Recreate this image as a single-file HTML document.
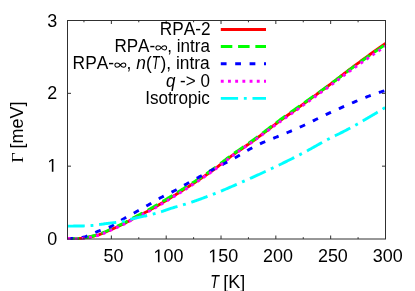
<!DOCTYPE html>
<html><head><meta charset="utf-8"><title>chart</title>
<style>html,body{margin:0;padding:0;background:#fff;}svg{display:block;}</style></head>
<body>
<svg width="415" height="291" viewBox="0 0 415 291">
<rect width="415" height="291" fill="#fff"/>
<clipPath id="c"><rect x="67.0" y="20.0" width="320.2" height="220.0"/></clipPath>
<g clip-path="url(#c)" fill="none" stroke-linecap="butt" stroke-linejoin="round">
<path d="M67.50,238.50 L68.56,238.50 L69.63,238.50 L70.69,238.50 L71.75,238.49 L72.82,238.49 L73.88,238.49 L74.94,238.48 L76.01,238.47 L77.07,238.46 L78.14,238.45 L79.20,238.42 L80.26,238.34 L81.33,238.23 L82.39,238.09 L83.45,237.95 L84.52,237.80 L85.58,237.65 L86.64,237.49 L87.71,237.32 L88.77,237.12 L89.83,236.92 L90.90,236.69 L91.96,236.46 L93.03,236.22 L94.09,235.97 L95.15,235.71 L96.22,235.43 L97.28,235.15 L98.34,234.86 L99.41,234.52 L100.47,234.15 L101.53,233.75 L102.60,233.33 L103.66,232.89 L104.72,232.43 L105.79,231.96 L106.85,231.49 L107.91,231.02 L108.98,230.54 L110.04,230.08 L111.11,229.62 L112.17,229.16 L113.23,228.70 L114.30,228.23 L115.36,227.75 L116.42,227.27 L117.49,226.79 L118.55,226.30 L119.61,225.80 L120.68,225.30 L121.74,224.79 L122.80,224.27 L123.87,223.73 L124.93,223.19 L125.99,222.63 L127.06,222.06 L128.12,221.48 L129.19,220.90 L130.25,220.32 L131.31,219.73 L132.38,219.15 L133.44,218.58 L134.50,218.01 L135.57,217.45 L136.63,216.90 L137.69,216.35 L138.76,215.82 L139.82,215.28 L140.88,214.75 L141.95,214.21 L143.01,213.67 L144.08,213.13 L145.14,212.58 L146.20,212.03 L147.27,211.46 L148.33,210.88 L149.39,210.30 L150.46,209.71 L151.52,209.11 L152.58,208.50 L153.65,207.89 L154.71,207.27 L155.77,206.65 L156.84,206.03 L157.90,205.40 L158.96,204.77 L160.03,204.15 L161.09,203.52 L162.16,202.88 L163.22,202.25 L164.28,201.61 L165.35,200.98 L166.41,200.34 L167.47,199.70 L168.54,199.05 L169.60,198.41 L170.66,197.76 L171.73,197.11 L172.79,196.46 L173.85,195.80 L174.92,195.15 L175.98,194.49 L177.05,193.83 L178.11,193.17 L179.17,192.50 L180.24,191.83 L181.30,191.16 L182.36,190.49 L183.43,189.82 L184.49,189.14 L185.55,188.46 L186.62,187.78 L187.68,187.10 L188.74,186.41 L189.81,185.73 L190.87,185.04 L191.93,184.35 L193.00,183.65 L194.06,182.96 L195.13,182.27 L196.19,181.57 L197.25,180.88 L198.32,180.18 L199.38,179.47 L200.44,178.77 L201.51,178.06 L202.57,177.35 L203.63,176.64 L204.70,175.92 L205.76,175.20 L206.82,174.47 L207.89,173.74 L208.95,173.00 L210.02,172.26 L211.08,171.51 L212.14,170.76 L213.21,170.00 L214.27,169.24 L215.33,168.46 L216.40,167.68 L217.46,166.87 L218.52,166.05 L219.59,165.22 L220.65,164.38 L221.71,163.54 L222.78,162.69 L223.84,161.84 L224.90,161.00 L225.97,160.16 L227.03,159.34 L228.10,158.52 L229.16,157.72 L230.22,156.94 L231.29,156.16 L232.35,155.40 L233.41,154.64 L234.48,153.88 L235.54,153.13 L236.60,152.39 L237.67,151.65 L238.73,150.91 L239.79,150.18 L240.86,149.45 L241.92,148.72 L242.98,147.99 L244.05,147.26 L245.11,146.53 L246.18,145.80 L247.24,145.06 L248.30,144.32 L249.37,143.58 L250.43,142.83 L251.49,142.08 L252.56,141.32 L253.62,140.56 L254.68,139.79 L255.75,139.01 L256.81,138.22 L257.87,137.44 L258.94,136.64 L260.00,135.85 L261.07,135.05 L262.13,134.24 L263.19,133.44 L264.26,132.63 L265.32,131.82 L266.38,131.01 L267.45,130.20 L268.51,129.38 L269.57,128.57 L270.64,127.76 L271.70,126.96 L272.76,126.15 L273.83,125.35 L274.89,124.55 L275.95,123.75 L277.02,122.96 L278.08,122.17 L279.15,121.39 L280.21,120.62 L281.27,119.85 L282.34,119.08 L283.40,118.31 L284.46,117.55 L285.53,116.79 L286.59,116.03 L287.65,115.28 L288.72,114.52 L289.78,113.76 L290.84,113.01 L291.91,112.26 L292.97,111.50 L294.04,110.75 L295.10,109.99 L296.16,109.24 L297.23,108.48 L298.29,107.72 L299.35,106.95 L300.42,106.19 L301.48,105.42 L302.54,104.65 L303.61,103.88 L304.67,103.10 L305.73,102.32 L306.80,101.55 L307.86,100.77 L308.92,99.99 L309.99,99.21 L311.05,98.44 L312.12,97.66 L313.18,96.89 L314.24,96.11 L315.31,95.33 L316.37,94.56 L317.43,93.78 L318.50,93.00 L319.56,92.22 L320.62,91.44 L321.69,90.66 L322.75,89.88 L323.81,89.10 L324.88,88.32 L325.94,87.53 L327.01,86.74 L328.07,85.96 L329.13,85.17 L330.20,84.38 L331.26,83.58 L332.32,82.78 L333.39,81.97 L334.45,81.16 L335.51,80.35 L336.58,79.53 L337.64,78.71 L338.70,77.89 L339.77,77.06 L340.83,76.24 L341.89,75.42 L342.96,74.59 L344.02,73.77 L345.09,72.95 L346.15,72.14 L347.21,71.33 L348.28,70.52 L349.34,69.71 L350.40,68.92 L351.47,68.12 L352.53,67.33 L353.59,66.53 L354.66,65.74 L355.72,64.95 L356.78,64.16 L357.85,63.37 L358.91,62.59 L359.97,61.80 L361.04,61.02 L362.10,60.23 L363.17,59.45 L364.23,58.67 L365.29,57.89 L366.36,57.11 L367.42,56.34 L368.48,55.56 L369.55,54.79 L370.61,54.02 L371.67,53.25 L372.74,52.48 L373.80,51.72 L374.86,50.95 L375.93,50.19 L376.99,49.43 L378.06,48.67 L379.12,47.91 L380.18,47.15 L381.25,46.40 L382.31,45.65 L383.37,44.90 L384.44,44.15 L385.50,43.40" stroke="#ff0000" stroke-width="2.9"/>
<path d="M67.50,238.50 L68.56,238.50 L69.63,238.50 L70.69,238.49 L71.75,238.48 L72.82,238.47 L73.88,238.46 L74.94,238.45 L76.01,238.43 L77.07,238.42 L78.14,238.40 L79.20,238.35 L80.26,238.26 L81.33,238.14 L82.39,237.99 L83.45,237.83 L84.52,237.67 L85.58,237.51 L86.64,237.34 L87.71,237.15 L88.77,236.94 L89.83,236.72 L90.90,236.48 L91.96,236.23 L93.03,235.97 L94.09,235.70 L95.15,235.42 L96.22,235.13 L97.28,234.82 L98.34,234.50 L99.41,234.14 L100.47,233.75 L101.53,233.33 L102.60,232.89 L103.66,232.43 L104.72,231.95 L105.79,231.46 L106.85,230.97 L107.91,230.49 L108.98,230.00 L110.04,229.53 L111.11,229.06 L112.17,228.60 L113.23,228.12 L114.30,227.64 L115.36,227.16 L116.42,226.68 L117.49,226.18 L118.55,225.69 L119.61,225.18 L120.68,224.67 L121.74,224.15 L122.80,223.62 L123.87,223.08 L124.93,222.53 L125.99,221.96 L127.06,221.38 L128.12,220.80 L129.19,220.21 L130.25,219.62 L131.31,219.02 L132.38,218.43 L133.44,217.84 L134.50,217.26 L135.57,216.69 L136.63,216.13 L137.69,215.57 L138.76,215.01 L139.82,214.46 L140.88,213.91 L141.95,213.36 L143.01,212.80 L144.08,212.24 L145.14,211.68 L146.20,211.10 L147.27,210.52 L148.33,209.92 L149.39,209.32 L150.46,208.71 L151.52,208.09 L152.58,207.47 L153.65,206.84 L154.71,206.21 L155.77,205.57 L156.84,204.93 L157.90,204.29 L158.96,203.65 L160.03,203.01 L161.09,202.37 L162.16,201.72 L163.22,201.08 L164.28,200.44 L165.35,199.79 L166.41,199.15 L167.47,198.50 L168.54,197.85 L169.60,197.21 L170.66,196.56 L171.73,195.91 L172.79,195.26 L173.85,194.61 L174.92,193.95 L175.98,193.30 L177.05,192.64 L178.11,191.98 L179.17,191.32 L180.24,190.65 L181.30,189.99 L182.36,189.32 L183.43,188.65 L184.49,187.98 L185.55,187.30 L186.62,186.63 L187.68,185.95 L188.74,185.27 L189.81,184.59 L190.87,183.90 L191.93,183.22 L193.00,182.53 L194.06,181.85 L195.13,181.16 L196.19,180.47 L197.25,179.78 L198.32,179.09 L199.38,178.40 L200.44,177.70 L201.51,177.00 L202.57,176.30 L203.63,175.59 L204.70,174.88 L205.76,174.17 L206.82,173.45 L207.89,172.72 L208.95,171.99 L210.02,171.26 L211.08,170.52 L212.14,169.78 L213.21,169.03 L214.27,168.27 L215.33,167.50 L216.40,166.72 L217.46,165.93 L218.52,165.12 L219.59,164.29 L220.65,163.46 L221.71,162.62 L222.78,161.78 L223.84,160.94 L224.90,160.10 L225.97,159.28 L227.03,158.46 L228.10,157.65 L229.16,156.86 L230.22,156.08 L231.29,155.31 L232.35,154.55 L233.41,153.79 L234.48,153.04 L235.54,152.30 L236.60,151.56 L237.67,150.82 L238.73,150.09 L239.79,149.36 L240.86,148.63 L241.92,147.91 L242.98,147.18 L244.05,146.45 L245.11,145.72 L246.18,144.99 L247.24,144.26 L248.30,143.52 L249.37,142.78 L250.43,142.03 L251.49,141.28 L252.56,140.52 L253.62,139.75 L254.68,138.98 L255.75,138.20 L256.81,137.42 L257.87,136.63 L258.94,135.83 L260.00,135.03 L261.07,134.23 L262.13,133.43 L263.19,132.62 L264.26,131.81 L265.32,130.99 L266.38,130.18 L267.45,129.37 L268.51,128.55 L269.57,127.74 L270.64,126.93 L271.70,126.12 L272.76,125.31 L273.83,124.51 L274.89,123.71 L275.95,122.91 L277.02,122.12 L278.08,121.33 L279.15,120.55 L280.21,119.77 L281.27,119.00 L282.34,118.23 L283.40,117.47 L284.46,116.71 L285.53,115.95 L286.59,115.19 L287.65,114.44 L288.72,113.69 L289.78,112.94 L290.84,112.19 L291.91,111.44 L292.97,110.69 L294.04,109.94 L295.10,109.19 L296.16,108.44 L297.23,107.70 L298.29,106.95 L299.35,106.20 L300.42,105.45 L301.48,104.70 L302.54,103.95 L303.61,103.19 L304.67,102.44 L305.73,101.68 L306.80,100.92 L307.86,100.17 L308.92,99.42 L309.99,98.66 L311.05,97.91 L312.12,97.16 L313.18,96.41 L314.24,95.66 L315.31,94.91 L316.37,94.16 L317.43,93.41 L318.50,92.66 L319.56,91.90 L320.62,91.15 L321.69,90.39 L322.75,89.64 L323.81,88.88 L324.88,88.12 L325.94,87.36 L327.01,86.59 L328.07,85.82 L329.13,85.05 L330.20,84.28 L331.26,83.50 L332.32,82.72 L333.39,81.93 L334.45,81.14 L335.51,80.34 L336.58,79.54 L337.64,78.74 L338.70,77.94 L339.77,77.14 L340.83,76.33 L341.89,75.53 L342.96,74.73 L344.02,73.93 L345.09,73.13 L346.15,72.34 L347.21,71.55 L348.28,70.77 L349.34,69.98 L350.40,69.21 L351.47,68.44 L352.53,67.67 L353.59,66.90 L354.66,66.13 L355.72,65.36 L356.78,64.60 L357.85,63.83 L358.91,63.07 L359.97,62.31 L361.04,61.55 L362.10,60.79 L363.17,60.03 L364.23,59.28 L365.29,58.52 L366.36,57.77 L367.42,57.02 L368.48,56.27 L369.55,55.52 L370.61,54.77 L371.67,54.03 L372.74,53.29 L373.80,52.54 L374.86,51.80 L375.93,51.07 L376.99,50.33 L378.06,49.59 L379.12,48.86 L380.18,48.13 L381.25,47.40 L382.31,46.67 L383.37,45.95 L384.44,45.22 L385.50,44.50" stroke="#00ff00" stroke-width="2.9" stroke-dasharray="11.52,5.76"/>
<path d="M67.50,238.50 L68.56,238.50 L69.63,238.49 L70.69,238.47 L71.75,238.44 L72.82,238.41 L73.88,238.38 L74.94,238.34 L76.01,238.30 L77.07,238.23 L78.14,238.12 L79.20,237.96 L80.26,237.77 L81.33,237.56 L82.39,237.33 L83.45,237.08 L84.52,236.82 L85.58,236.55 L86.64,236.23 L87.71,235.85 L88.77,235.43 L89.83,234.98 L90.90,234.50 L91.96,234.01 L93.03,233.51 L94.09,233.01 L95.15,232.53 L96.22,232.06 L97.28,231.62 L98.34,231.21 L99.41,230.82 L100.47,230.44 L101.53,230.07 L102.60,229.71 L103.66,229.35 L104.72,228.98 L105.79,228.60 L106.85,228.20 L107.91,227.79 L108.98,227.35 L110.04,226.88 L111.11,226.37 L112.17,225.81 L113.23,225.21 L114.30,224.58 L115.36,223.92 L116.42,223.24 L117.49,222.56 L118.55,221.87 L119.61,221.19 L120.68,220.52 L121.74,219.87 L122.80,219.25 L123.87,218.65 L124.93,218.05 L125.99,217.46 L127.06,216.88 L128.12,216.29 L129.19,215.70 L130.25,215.12 L131.31,214.53 L132.38,213.94 L133.44,213.35 L134.50,212.76 L135.57,212.16 L136.63,211.56 L137.69,210.96 L138.76,210.36 L139.82,209.77 L140.88,209.17 L141.95,208.57 L143.01,207.97 L144.08,207.36 L145.14,206.76 L146.20,206.15 L147.27,205.54 L148.33,204.92 L149.39,204.30 L150.46,203.68 L151.52,203.04 L152.58,202.41 L153.65,201.78 L154.71,201.15 L155.77,200.52 L156.84,199.90 L157.90,199.29 L158.96,198.69 L160.03,198.09 L161.09,197.52 L162.16,196.95 L163.22,196.40 L164.28,195.86 L165.35,195.32 L166.41,194.79 L167.47,194.27 L168.54,193.74 L169.60,193.22 L170.66,192.69 L171.73,192.15 L172.79,191.61 L173.85,191.05 L174.92,190.48 L175.98,189.90 L177.05,189.32 L178.11,188.72 L179.17,188.12 L180.24,187.52 L181.30,186.91 L182.36,186.31 L183.43,185.70 L184.49,185.10 L185.55,184.50 L186.62,183.91 L187.68,183.32 L188.74,182.73 L189.81,182.14 L190.87,181.56 L191.93,180.97 L193.00,180.39 L194.06,179.80 L195.13,179.22 L196.19,178.64 L197.25,178.06 L198.32,177.47 L199.38,176.89 L200.44,176.31 L201.51,175.73 L202.57,175.14 L203.63,174.56 L204.70,173.98 L205.76,173.40 L206.82,172.82 L207.89,172.24 L208.95,171.66 L210.02,171.08 L211.08,170.51 L212.14,169.94 L213.21,169.38 L214.27,168.81 L215.33,168.26 L216.40,167.70 L217.46,167.15 L218.52,166.60 L219.59,166.05 L220.65,165.50 L221.71,164.95 L222.78,164.40 L223.84,163.84 L224.90,163.28 L225.97,162.71 L227.03,162.14 L228.10,161.57 L229.16,161.00 L230.22,160.43 L231.29,159.86 L232.35,159.28 L233.41,158.70 L234.48,158.11 L235.54,157.52 L236.60,156.92 L237.67,156.32 L238.73,155.71 L239.79,155.08 L240.86,154.44 L241.92,153.80 L242.98,153.14 L244.05,152.49 L245.11,151.84 L246.18,151.20 L247.24,150.57 L248.30,149.95 L249.37,149.35 L250.43,148.77 L251.49,148.20 L252.56,147.63 L253.62,147.07 L254.68,146.52 L255.75,145.98 L256.81,145.45 L257.87,144.92 L258.94,144.40 L260.00,143.90 L261.07,143.40 L262.13,142.91 L263.19,142.44 L264.26,141.97 L265.32,141.52 L266.38,141.08 L267.45,140.65 L268.51,140.22 L269.57,139.80 L270.64,139.39 L271.70,138.97 L272.76,138.55 L273.83,138.13 L274.89,137.71 L275.95,137.28 L277.02,136.85 L278.08,136.41 L279.15,135.98 L280.21,135.54 L281.27,135.11 L282.34,134.67 L283.40,134.24 L284.46,133.80 L285.53,133.36 L286.59,132.92 L287.65,132.48 L288.72,132.03 L289.78,131.58 L290.84,131.12 L291.91,130.67 L292.97,130.21 L294.04,129.75 L295.10,129.29 L296.16,128.83 L297.23,128.36 L298.29,127.89 L299.35,127.42 L300.42,126.94 L301.48,126.46 L302.54,125.97 L303.61,125.48 L304.67,124.98 L305.73,124.48 L306.80,123.97 L307.86,123.46 L308.92,122.95 L309.99,122.43 L311.05,121.90 L312.12,121.38 L313.18,120.85 L314.24,120.33 L315.31,119.80 L316.37,119.28 L317.43,118.75 L318.50,118.23 L319.56,117.71 L320.62,117.19 L321.69,116.67 L322.75,116.16 L323.81,115.66 L324.88,115.16 L325.94,114.66 L327.01,114.16 L328.07,113.67 L329.13,113.18 L330.20,112.68 L331.26,112.19 L332.32,111.70 L333.39,111.21 L334.45,110.72 L335.51,110.24 L336.58,109.75 L337.64,109.27 L338.70,108.79 L339.77,108.31 L340.83,107.84 L341.89,107.36 L342.96,106.89 L344.02,106.42 L345.09,105.96 L346.15,105.49 L347.21,105.03 L348.28,104.58 L349.34,104.12 L350.40,103.67 L351.47,103.22 L352.53,102.77 L353.59,102.32 L354.66,101.88 L355.72,101.43 L356.78,100.99 L357.85,100.54 L358.91,100.10 L359.97,99.66 L361.04,99.23 L362.10,98.79 L363.17,98.36 L364.23,97.94 L365.29,97.51 L366.36,97.09 L367.42,96.68 L368.48,96.27 L369.55,95.86 L370.61,95.46 L371.67,95.07 L372.74,94.68 L373.80,94.30 L374.86,93.92 L375.93,93.55 L376.99,93.18 L378.06,92.83 L379.12,92.48 L380.18,92.14 L381.25,91.80 L382.31,91.47 L383.37,91.14 L384.44,90.82 L385.50,90.50" stroke="#0000ff" stroke-width="2.9" stroke-dasharray="5.76,8.64"/>
<path d="M67.50,238.50 L68.56,238.52 L69.63,238.54 L70.69,238.56 L71.75,238.58 L72.82,238.59 L73.88,238.61 L74.94,238.62 L76.01,238.63 L77.07,238.64 L78.14,238.65 L79.20,238.63 L80.26,238.56 L81.33,238.47 L82.39,238.36 L83.45,238.24 L84.52,238.11 L85.58,237.98 L86.64,237.84 L87.71,237.68 L88.77,237.51 L89.83,237.31 L90.90,237.11 L91.96,236.88 L93.03,236.65 L94.09,236.40 L95.15,236.14 L96.22,235.87 L97.28,235.59 L98.34,235.28 L99.41,234.95 L100.47,234.57 L101.53,234.17 L102.60,233.74 L103.66,233.30 L104.72,232.83 L105.79,232.36 L106.85,231.89 L107.91,231.41 L108.98,230.94 L110.04,230.48 L111.11,230.03 L112.17,229.57 L113.23,229.11 L114.30,228.65 L115.36,228.18 L116.42,227.70 L117.49,227.22 L118.55,226.73 L119.61,226.24 L120.68,225.74 L121.74,225.24 L122.80,224.72 L123.87,224.19 L124.93,223.65 L125.99,223.10 L127.06,222.54 L128.12,221.97 L129.19,221.40 L130.25,220.82 L131.31,220.25 L132.38,219.67 L133.44,219.11 L134.50,218.55 L135.57,218.00 L136.63,217.46 L137.69,216.92 L138.76,216.40 L139.82,215.87 L140.88,215.35 L141.95,214.82 L143.01,214.30 L144.08,213.76 L145.14,213.23 L146.20,212.68 L147.27,212.13 L148.33,211.56 L149.39,210.98 L150.46,210.40 L151.52,209.81 L152.58,209.21 L153.65,208.61 L154.71,208.00 L155.77,207.39 L156.84,206.78 L157.90,206.16 L158.96,205.54 L160.03,204.91 L161.09,204.29 L162.16,203.66 L163.22,203.03 L164.28,202.40 L165.35,201.77 L166.41,201.13 L167.47,200.49 L168.54,199.85 L169.60,199.21 L170.66,198.56 L171.73,197.91 L172.79,197.26 L173.85,196.60 L174.92,195.94 L175.98,195.28 L177.05,194.62 L178.11,193.95 L179.17,193.29 L180.24,192.62 L181.30,191.94 L182.36,191.27 L183.43,190.59 L184.49,189.91 L185.55,189.23 L186.62,188.54 L187.68,187.85 L188.74,187.16 L189.81,186.47 L190.87,185.77 L191.93,185.07 L193.00,184.37 L194.06,183.68 L195.13,182.98 L196.19,182.27 L197.25,181.57 L198.32,180.86 L199.38,180.15 L200.44,179.44 L201.51,178.73 L202.57,178.01 L203.63,177.28 L204.70,176.56 L205.76,175.83 L206.82,175.09 L207.89,174.35 L208.95,173.61 L210.02,172.86 L211.08,172.11 L212.14,171.34 L213.21,170.58 L214.27,169.80 L215.33,169.02 L216.40,168.23 L217.46,167.42 L218.52,166.59 L219.59,165.75 L220.65,164.90 L221.71,164.05 L222.78,163.20 L223.84,162.34 L224.90,161.49 L225.97,160.65 L227.03,159.82 L228.10,159.00 L229.16,158.19 L230.22,157.40 L231.29,156.62 L232.35,155.85 L233.41,155.08 L234.48,154.32 L235.54,153.57 L236.60,152.82 L237.67,152.08 L238.73,151.34 L239.79,150.60 L240.86,149.86 L241.92,149.13 L242.98,148.40 L244.05,147.67 L245.11,146.93 L246.18,146.20 L247.24,145.46 L248.30,144.72 L249.37,143.98 L250.43,143.23 L251.49,142.48 L252.56,141.73 L253.62,140.97 L254.68,140.20 L255.75,139.43 L256.81,138.66 L257.87,137.88 L258.94,137.10 L260.00,136.32 L261.07,135.54 L262.13,134.75 L263.19,133.96 L264.26,133.17 L265.32,132.38 L266.38,131.59 L267.45,130.80 L268.51,130.01 L269.57,129.22 L270.64,128.43 L271.70,127.64 L272.76,126.86 L273.83,126.07 L274.89,125.30 L275.95,124.52 L277.02,123.75 L278.08,122.98 L279.15,122.22 L280.21,121.47 L281.27,120.71 L282.34,119.96 L283.40,119.22 L284.46,118.47 L285.53,117.72 L286.59,116.98 L287.65,116.23 L288.72,115.49 L289.78,114.74 L290.84,114.00 L291.91,113.25 L292.97,112.50 L294.04,111.75 L295.10,110.99 L296.16,110.24 L297.23,109.48 L298.29,108.72 L299.35,107.96 L300.42,107.20 L301.48,106.44 L302.54,105.68 L303.61,104.91 L304.67,104.14 L305.73,103.37 L306.80,102.60 L307.86,101.84 L308.92,101.07 L309.99,100.30 L311.05,99.54 L312.12,98.77 L313.18,98.01 L314.24,97.24 L315.31,96.48 L316.37,95.71 L317.43,94.95 L318.50,94.18 L319.56,93.42 L320.62,92.65 L321.69,91.88 L322.75,91.11 L323.81,90.34 L324.88,89.57 L325.94,88.79 L327.01,88.02 L328.07,87.24 L329.13,86.46 L330.20,85.68 L331.26,84.89 L332.32,84.10 L333.39,83.31 L334.45,82.51 L335.51,81.71 L336.58,80.90 L337.64,80.10 L338.70,79.29 L339.77,78.49 L340.83,77.69 L341.89,76.88 L342.96,76.08 L344.02,75.28 L345.09,74.49 L346.15,73.69 L347.21,72.91 L348.28,72.12 L349.34,71.35 L350.40,70.58 L351.47,69.81 L352.53,69.04 L353.59,68.28 L354.66,67.52 L355.72,66.76 L356.78,66.00 L357.85,65.25 L358.91,64.49 L359.97,63.74 L361.04,62.99 L362.10,62.24 L363.17,61.50 L364.23,60.75 L365.29,60.01 L366.36,59.27 L367.42,58.53 L368.48,57.80 L369.55,57.06 L370.61,56.33 L371.67,55.60 L372.74,54.87 L373.80,54.15 L374.86,53.42 L375.93,52.70 L376.99,51.98 L378.06,51.26 L379.12,50.55 L380.18,49.84 L381.25,49.12 L382.31,48.41 L383.37,47.71 L384.44,47.00 L385.50,46.30" stroke="#ff00ff" stroke-width="2.9" stroke-dasharray="2.88,4.32"/>
<path d="M67.50,226.10 L68.56,226.10 L69.63,226.10 L70.69,226.09 L71.75,226.09 L72.82,226.08 L73.88,226.07 L74.94,226.06 L76.01,226.05 L77.07,226.03 L78.14,226.02 L79.20,226.00 L80.26,225.99 L81.33,225.97 L82.39,225.95 L83.45,225.93 L84.52,225.91 L85.58,225.89 L86.64,225.85 L87.71,225.80 L88.77,225.73 L89.83,225.66 L90.90,225.57 L91.96,225.47 L93.03,225.36 L94.09,225.24 L95.15,225.12 L96.22,224.99 L97.28,224.85 L98.34,224.71 L99.41,224.56 L100.47,224.42 L101.53,224.26 L102.60,224.11 L103.66,223.96 L104.72,223.81 L105.79,223.66 L106.85,223.51 L107.91,223.37 L108.98,223.23 L110.04,223.09 L111.11,222.97 L112.17,222.84 L113.23,222.71 L114.30,222.59 L115.36,222.46 L116.42,222.33 L117.49,222.19 L118.55,222.05 L119.61,221.90 L120.68,221.74 L121.74,221.57 L122.80,221.38 L123.87,221.17 L124.93,220.94 L125.99,220.68 L127.06,220.40 L128.12,220.10 L129.19,219.80 L130.25,219.49 L131.31,219.18 L132.38,218.87 L133.44,218.58 L134.50,218.30 L135.57,218.04 L136.63,217.79 L137.69,217.55 L138.76,217.32 L139.82,217.09 L140.88,216.86 L141.95,216.64 L143.01,216.41 L144.08,216.19 L145.14,215.96 L146.20,215.72 L147.27,215.48 L148.33,215.22 L149.39,214.97 L150.46,214.71 L151.52,214.45 L152.58,214.18 L153.65,213.90 L154.71,213.63 L155.77,213.34 L156.84,213.05 L157.90,212.75 L158.96,212.45 L160.03,212.13 L161.09,211.81 L162.16,211.46 L163.22,211.09 L164.28,210.71 L165.35,210.32 L166.41,209.93 L167.47,209.54 L168.54,209.17 L169.60,208.81 L170.66,208.46 L171.73,208.13 L172.79,207.81 L173.85,207.49 L174.92,207.17 L175.98,206.86 L177.05,206.56 L178.11,206.25 L179.17,205.95 L180.24,205.64 L181.30,205.34 L182.36,205.03 L183.43,204.72 L184.49,204.40 L185.55,204.08 L186.62,203.75 L187.68,203.41 L188.74,203.07 L189.81,202.72 L190.87,202.37 L191.93,202.01 L193.00,201.64 L194.06,201.28 L195.13,200.91 L196.19,200.54 L197.25,200.16 L198.32,199.78 L199.38,199.40 L200.44,199.02 L201.51,198.63 L202.57,198.24 L203.63,197.85 L204.70,197.45 L205.76,197.06 L206.82,196.66 L207.89,196.25 L208.95,195.85 L210.02,195.44 L211.08,195.03 L212.14,194.62 L213.21,194.21 L214.27,193.79 L215.33,193.38 L216.40,192.96 L217.46,192.53 L218.52,192.10 L219.59,191.67 L220.65,191.24 L221.71,190.80 L222.78,190.36 L223.84,189.92 L224.90,189.47 L225.97,189.02 L227.03,188.57 L228.10,188.11 L229.16,187.66 L230.22,187.20 L231.29,186.74 L232.35,186.28 L233.41,185.82 L234.48,185.35 L235.54,184.89 L236.60,184.42 L237.67,183.95 L238.73,183.48 L239.79,183.01 L240.86,182.54 L241.92,182.07 L242.98,181.60 L244.05,181.13 L245.11,180.66 L246.18,180.18 L247.24,179.71 L248.30,179.24 L249.37,178.76 L250.43,178.29 L251.49,177.81 L252.56,177.33 L253.62,176.86 L254.68,176.38 L255.75,175.90 L256.81,175.42 L257.87,174.94 L258.94,174.45 L260.00,173.97 L261.07,173.48 L262.13,172.99 L263.19,172.50 L264.26,172.01 L265.32,171.52 L266.38,171.03 L267.45,170.53 L268.51,170.04 L269.57,169.54 L270.64,169.04 L271.70,168.54 L272.76,168.03 L273.83,167.53 L274.89,167.02 L275.95,166.52 L277.02,166.01 L278.08,165.50 L279.15,164.98 L280.21,164.47 L281.27,163.95 L282.34,163.44 L283.40,162.92 L284.46,162.40 L285.53,161.87 L286.59,161.35 L287.65,160.82 L288.72,160.30 L289.78,159.77 L290.84,159.24 L291.91,158.70 L292.97,158.17 L294.04,157.63 L295.10,157.09 L296.16,156.56 L297.23,156.01 L298.29,155.47 L299.35,154.92 L300.42,154.38 L301.48,153.83 L302.54,153.28 L303.61,152.72 L304.67,152.16 L305.73,151.59 L306.80,151.01 L307.86,150.43 L308.92,149.85 L309.99,149.26 L311.05,148.66 L312.12,148.07 L313.18,147.47 L314.24,146.87 L315.31,146.27 L316.37,145.67 L317.43,145.08 L318.50,144.48 L319.56,143.89 L320.62,143.30 L321.69,142.72 L322.75,142.14 L323.81,141.56 L324.88,140.99 L325.94,140.43 L327.01,139.88 L328.07,139.33 L329.13,138.78 L330.20,138.24 L331.26,137.70 L332.32,137.17 L333.39,136.63 L334.45,136.10 L335.51,135.57 L336.58,135.04 L337.64,134.51 L338.70,133.98 L339.77,133.45 L340.83,132.92 L341.89,132.38 L342.96,131.84 L344.02,131.30 L345.09,130.75 L346.15,130.20 L347.21,129.64 L348.28,129.08 L349.34,128.51 L350.40,127.94 L351.47,127.36 L352.53,126.77 L353.59,126.18 L354.66,125.59 L355.72,124.99 L356.78,124.39 L357.85,123.78 L358.91,123.17 L359.97,122.56 L361.04,121.95 L362.10,121.33 L363.17,120.71 L364.23,120.09 L365.29,119.46 L366.36,118.84 L367.42,118.21 L368.48,117.58 L369.55,116.95 L370.61,116.32 L371.67,115.69 L372.74,115.05 L373.80,114.42 L374.86,113.79 L375.93,113.15 L376.99,112.51 L378.06,111.87 L379.12,111.22 L380.18,110.58 L381.25,109.92 L382.31,109.27 L383.37,108.62 L384.44,107.96 L385.50,107.30" stroke="#00ffff" stroke-width="2.9" stroke-dasharray="17.28,5.76,2.88,5.76"/>
</g>
<g fill="none">
<path d="M220.8,29.5 L266.0,29.5" stroke="#ff0000" stroke-width="2.9"/>
<path d="M220.8,46.5 L266.0,46.5" stroke="#00ff00" stroke-width="2.9" stroke-dasharray="11.52,5.76"/>
<path d="M220.8,63.8 L266.0,63.8" stroke="#0000ff" stroke-width="2.9" stroke-dasharray="5.76,8.64"/>
<path d="M220.8,81.2 L266.0,81.2" stroke="#ff00ff" stroke-width="2.9" stroke-dasharray="2.88,4.32"/>
<path d="M220.8,98.4 L266.0,98.4" stroke="#00ffff" stroke-width="2.9" stroke-dasharray="17.28,5.76,2.88,5.76"/>
</g>
<g stroke="#303030" stroke-width="1" fill="none">
<rect x="67.5" y="20.5" width="318.0" height="218.5"/>
<path d="M83.95,239.0 v-1.8 M83.95,20.5 v1.8"/>
<path d="M111.36,239.0 v-3.5 M111.36,20.5 v3.5"/>
<path d="M138.78,239.0 v-1.8 M138.78,20.5 v1.8"/>
<path d="M166.19,239.0 v-3.5 M166.19,20.5 v3.5"/>
<path d="M193.60,239.0 v-1.8 M193.60,20.5 v1.8"/>
<path d="M221.02,239.0 v-3.5 M221.02,20.5 v3.5"/>
<path d="M248.43,239.0 v-1.8 M248.43,20.5 v1.8"/>
<path d="M275.84,239.0 v-3.5 M275.84,20.5 v3.5"/>
<path d="M303.26,239.0 v-1.8 M303.26,20.5 v1.8"/>
<path d="M330.67,239.0 v-3.5 M330.67,20.5 v3.5"/>
<path d="M358.09,239.0 v-1.8 M358.09,20.5 v1.8"/>
<path d="M67.5,166.17 h3.5 M385.5,166.17 h-3.5"/>
<path d="M67.5,93.33 h3.5 M385.5,93.33 h-3.5"/>
</g>
<g font-family="Liberation Sans, sans-serif" fill="#000" style="font-kerning:none;will-change:transform">
<g transform="translate(57.30,245.10)">
<text transform="translate(-9.98,0) scale(0.9700,1)" font-size="18.5" xml:space="preserve">0</text>
</g>
<g transform="translate(57.30,171.70)">
<path transform="translate(-9.98,0) scale(0.008762,-0.009033)" d="M515,0 L515,1237 L197,1010 L197,1180 L530,1409 L696,1409 L696,0 Z"/>
</g>
<g transform="translate(57.30,99.20)">
<text transform="translate(-9.98,0) scale(0.9700,1)" font-size="18.5" xml:space="preserve">2</text>
</g>
<g transform="translate(57.30,27.00)">
<text transform="translate(-9.98,0) scale(0.9700,1)" font-size="18.5" xml:space="preserve">3</text>
</g>
<g transform="translate(113.56,262.30)">
<text transform="translate(-9.98,0) scale(0.9700,1)" font-size="18.5" xml:space="preserve">50</text>
</g>
<g transform="translate(168.39,262.30)">
<path transform="translate(-14.97,0) scale(0.008762,-0.009033)" d="M515,0 L515,1237 L197,1010 L197,1180 L530,1409 L696,1409 L696,0 Z"/>
<text transform="translate(-4.99,0) scale(0.9700,1)" font-size="18.5">00</text>
</g>
<g transform="translate(223.22,262.30)">
<path transform="translate(-14.97,0) scale(0.008762,-0.009033)" d="M515,0 L515,1237 L197,1010 L197,1180 L530,1409 L696,1409 L696,0 Z"/>
<text transform="translate(-4.99,0) scale(0.9700,1)" font-size="18.5">50</text>
</g>
<g transform="translate(278.04,262.30)">
<text transform="translate(-14.97,0) scale(0.9700,1)" font-size="18.5" xml:space="preserve">200</text>
</g>
<g transform="translate(332.87,262.30)">
<text transform="translate(-14.97,0) scale(0.9700,1)" font-size="18.5" xml:space="preserve">250</text>
</g>
<g transform="translate(387.70,262.30)">
<text transform="translate(-14.97,0) scale(0.9700,1)" font-size="18.5" xml:space="preserve">300</text>
</g>
<g transform="translate(227.70,287.60)">
<text transform="translate(-17.55,0) scale(0.7760,1)" font-size="18.5" font-style="italic" xml:space="preserve">T</text>
<text transform="translate(-4.39,0) scale(0.9700,1)" font-size="18.5" xml:space="preserve">[K]</text>
</g>
<g transform="translate(23.00,132.65) rotate(-90)">
<text transform="translate(-30.06,0) scale(1.0195,1)" font-size="17.6" font-family="Liberation Serif, serif" xml:space="preserve">Γ</text>
<text transform="translate(-20.79,0) scale(0.9700,1)" font-size="18.5" xml:space="preserve"> [meV]</text>
</g>
<g transform="translate(210.50,34.70)">
<text transform="translate(-50.67,0) scale(0.9400,1)" font-size="18.3" xml:space="preserve">RPA-2</text>
</g>
<g transform="translate(210.00,52.10)">
<text transform="translate(-95.56,0) scale(0.9320,1)" font-size="18.3" xml:space="preserve">RPA-</text>
<path d="M-48.74,-4.30 C-50.60,-7.16 -54.07,-7.16 -54.07,-4.30 C-54.07,-1.44 -50.60,-1.44 -48.74,-4.30 C-46.87,-7.16 -43.41,-7.16 -43.41,-4.30 C-43.41,-1.44 -46.87,-1.44 -48.74,-4.30Z" fill="none" stroke="#000" stroke-width="1.05"/>
<text transform="translate(-42.66,0) scale(0.9320,1)" font-size="18.3" xml:space="preserve">, intra</text>
</g>
<g transform="translate(209.80,69.40)">
<text transform="translate(-137.18,0) scale(0.9500,1)" font-size="18.3" xml:space="preserve">RPA-</text>
<path d="M-89.44,-4.30 C-91.35,-7.16 -94.89,-7.16 -94.89,-4.30 C-94.89,-1.44 -91.35,-1.44 -89.44,-4.30 C-87.54,-7.16 -84.00,-7.16 -84.00,-4.30 C-84.00,-1.44 -87.54,-1.44 -89.44,-4.30Z" fill="none" stroke="#000" stroke-width="1.05"/>
<text transform="translate(-83.25,0) scale(0.9500,1)" font-size="18.3" xml:space="preserve">, </text>
<text transform="translate(-73.59,0) scale(0.9500,1)" font-size="18.3" font-style="italic" xml:space="preserve">n</text>
<text transform="translate(-63.92,0) scale(0.9500,1)" font-size="18.3" xml:space="preserve">(</text>
<text transform="translate(-57.93,0) scale(0.7030,1)" font-size="18.3" font-style="italic" xml:space="preserve">T</text>
<text transform="translate(-49.27,0) scale(0.9500,1)" font-size="18.3" xml:space="preserve">), intra</text>
</g>
<g transform="translate(209.90,86.50)">
<text transform="translate(-43.99,0) scale(0.9300,1)" font-size="18.3" font-style="italic" xml:space="preserve">q</text>
<text transform="translate(-34.53,0) scale(0.9300,1)" font-size="18.3" xml:space="preserve"> -&gt; 0</text>
</g>
<g transform="translate(209.90,103.60)">
<text transform="translate(-64.67,0) scale(0.9350,1)" font-size="18.3" xml:space="preserve">Isotropic</text>
</g>
</g>
</svg>
</body></html>
